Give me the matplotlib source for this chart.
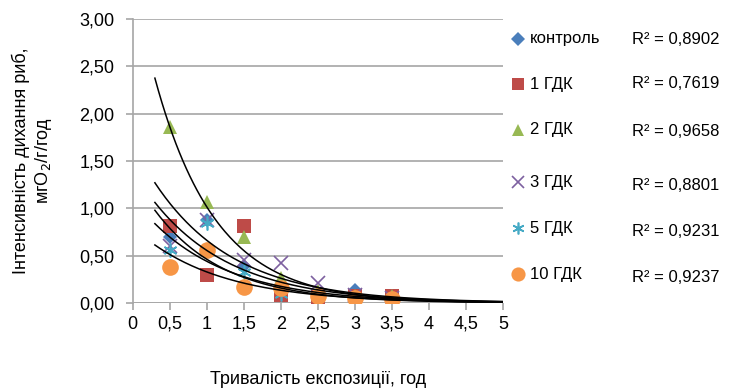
import numpy as np
import matplotlib
matplotlib.use("Agg")
import matplotlib.pyplot as plt

plt.rcParams['font.family'] = ['Liberation Sans', 'DejaVu Sans']

x = [0.5, 1.0, 1.5, 2.0, 2.5, 3.0, 3.5]
control = [0.70, 0.88, 0.39, 0.15, 0.10, 0.14, 0.05]
gdk1 = [0.81, 0.30, 0.81, 0.09, 0.06, 0.07, 0.07]
gdk2 = [1.86, 1.07, 0.70, 0.26, 0.13, 0.07, 0.07]
gdk3 = [0.60, 0.88, 0.45, 0.42, 0.21, 0.08, 0.05]
gdk5 = [0.56, 0.85, 0.33, 0.10, 0.08, 0.05, 0.04]
gdk10 = [0.38, 0.56, 0.17, 0.16, 0.07, 0.05, 0.04]

labels = ['контроль', '1 ГДК', '2 ГДК', '3 ГДК', '5 ГДК', '10 ГДК']
r2 = ['R² = 0,8902', 'R² = 0,7619', 'R² = 0,9658', 'R² = 0,8801', 'R² = 0,9231', 'R² = 0,9237']
xticks = ['0', '0,5', '1', '1,5', '2', '2,5', '3', '3,5', '4', '4,5', '5']
yticks = ['0,00', '0,50', '1,00', '1,50', '2,00', '2,50', '3,00']

series = [control, gdk1, gdk2, gdk3, gdk5, gdk10]
styles = [
    dict(marker='D', color='#4a7ebb', ms=7),
    dict(marker='s', color='#be4b48', ms=10),
    dict(marker='^', color='#98b954', ms=10),
    dict(marker='x', color='#7d60a0', ms=10, mew=1.2),
    dict(marker=(6, 2, 0), color='#46aac5', ms=10, mew=1.2),
    dict(marker='o', color='#f79646', ms=12),
]

fig = plt.figure(figsize=(7.29, 3.88), dpi=100)
ax = fig.add_axes([0.182, 0.219, 0.508, 0.732])

xs = np.linspace(0.3, 5, 200)
handles = []
for ys, st in zip(series, styles):
    kw = dict(st)
    ms = kw.pop('ms')
    mew = kw.pop('mew', 0)
    h, = ax.plot(x, ys, linestyle='none', marker=kw['marker'], color=kw['color'],
                 markersize=ms, markeredgewidth=mew if mew else 0, zorder=3)
    handles.append(h)

for ys in series:
    b, la = np.polyfit(x, np.log(ys), 1)
    ax.plot(xs, np.exp(la) * np.exp(b * xs), color='black', lw=1.1, zorder=4)

ax.set_xlim(0, 5)
ax.set_ylim(0, 3)
ax.set_xticks(np.arange(0, 5.01, 0.5))
ax.set_xticklabels(xticks)
ax.set_yticks(np.arange(0, 3.01, 0.5))
ax.set_yticklabels(yticks)
ax.grid(axis='y', color='#a6a6a6', lw=1.2)
ax.set_axisbelow(True)
for s in ['top', 'right']:
    ax.spines[s].set_visible(False)
ax.spines['bottom'].set_visible(False)
ax.spines['left'].set_color('#a6a6a6')
ax.spines['left'].set_linewidth(1.2)
ax.axhline(0, color='#a6a6a6', lw=1.2, zorder=1)
ax.tick_params(axis='both', colors='#a6a6a6', labelcolor='black', labelsize=13,
               length=5, width=1.2)
ax.tick_params(axis='y', pad=8)
ax.tick_params(axis='x', pad=4)

ax.set_xlabel('Тривалість експозиції, год', fontsize=13, labelpad=28)
ax.set_ylabel('Інтенсивність дихання риб,\nмгО$_2$/г/год', fontsize=13, labelpad=18)

leg_y = [39, 84, 130, 182, 228, 274]
r2_y = [39, 84, 131, 185, 231, 277]
for i, (h, lab) in enumerate(zip(handles, labels)):
    yy = 1 - leg_y[i] / 388
    st = styles[i]
    fig.lines.append(matplotlib.lines.Line2D([518 / 729], [yy], transform=fig.transFigure,
                     marker=st['marker'], color=st['color'], linestyle='none',
                     markersize=st['ms'] * (0.85 if st['marker'] != 'D' else 1.0),
                     markeredgewidth=st.get('mew', 0)))
    fig.text(530 / 729, yy, lab, fontsize=12, va='center', ha='left')
    fig.text(632 / 729, 1 - r2_y[i] / 388, r2[i], fontsize=12, va='center', ha='left')

fig.savefig('out.png', dpi=100)
